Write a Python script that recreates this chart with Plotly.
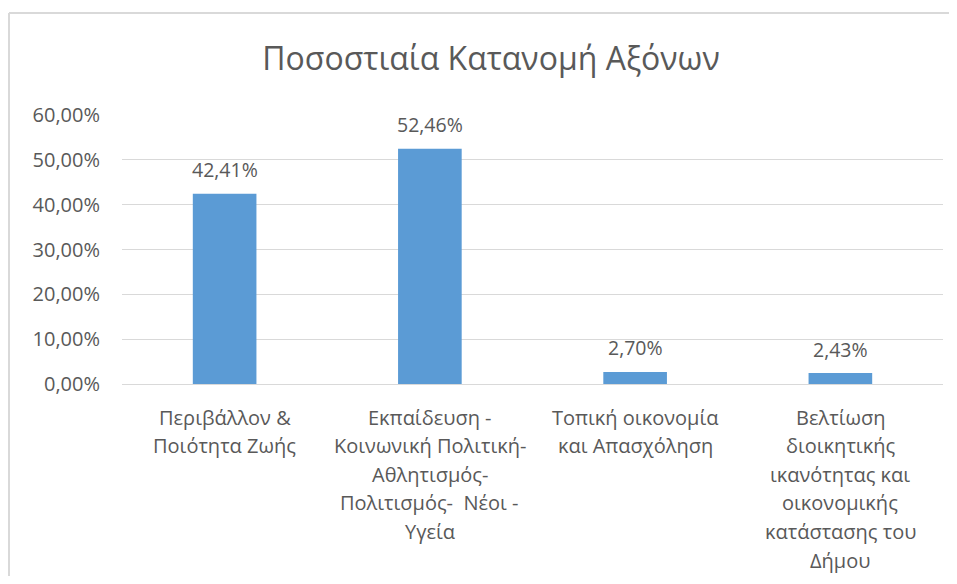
import plotly.graph_objects as go

categories = ["Περιβάλλον & Ποιότητα Ζωής",
              "Εκπαίδευση - Κοινωνική Πολιτική- Αθλητισμός- Πολιτισμός-  Νέοι - Υγεία",
              "Τοπική οικονομία και Απασχόληση",
              "Βελτίωση διοικητικής ικανότητας και οικονομικής κατάστασης του Δήμου"]
category_lines = [["Περιβάλλον &", "Ποιότητα Ζωής"],
                  ["Εκπαίδευση -", "Κοινωνική Πολιτική-", "Αθλητισμός-", "Πολιτισμός-  Νέοι -", "Υγεία"],
                  ["Τοπική οικονομία", "και Απασχόληση"],
                  ["Βελτίωση", "διοικητικής", "ικανότητας και", "οικονομικής", "κατάστασης του", "Δήμου"]]
values = [0.4241, 0.5246, 0.0270, 0.0243]
tick_vals = [0, 0.1, 0.2, 0.3, 0.4, 0.5, 0.6]

FONT = "Open Sans"
GREY = "#595959"
OFF = 8  # page body margin

fig = go.Figure()
fig.add_trace(go.Bar(x=categories, y=values, marker_color="#5B9BD5",
                     marker_line_width=0, hoverinfo="skip"))

annotations = []
for c, v in zip(categories, values):
    annotations.append(dict(x=c, y=v, xref="x", yref="y",
                            text=f"{v*100:.2f}".replace(".", ",") + "%",
                            showarrow=False, yanchor="middle", yshift=24,
                            font=dict(family=FONT, size=19.5, color=GREY)))
for c, lines in zip(categories, category_lines):
    for i, ln in enumerate(lines):
        annotations.append(dict(x=c, y=0, xref="x", yref="y", text=ln,
                                showarrow=False, yanchor="middle",
                                yshift=-33 - 28.6 * i,
                                font=dict(family=FONT, size=20, color=GREY)))

W, H = 957 - 2 * OFF, 584 - 2 * OFF
L, T = 122 - OFF, 115 - OFF
PW = 943 - 122
R = W - L - PW
B = H - (384 - OFF)
PH = H - T - B

def px_x(x):
    return (x - OFF - L) / PW

def px_y(y):
    return (H - B - (y - OFF)) / PH

border = dict(color="#D9D9D9", width=2)

fig.update_layout(
    width=W, height=H,
    separators=",.",
    paper_bgcolor="white", plot_bgcolor="white",
    margin=dict(l=L, r=R, t=T, b=B),
    bargap=0.69,
    showlegend=False,
    title=dict(text="Ποσοστιαία Κατανομή Αξόνων", x=(491 - OFF) / W, xref="container",
               xanchor="center", y=1 - (59 - OFF) / H, yref="container", yanchor="middle",
               font=dict(family=FONT, size=32, color=GREY)),
    xaxis=dict(showticklabels=False, showgrid=False, zeroline=False,
               showline=False, fixedrange=True),
    yaxis=dict(range=[0, 0.6], tickvals=tick_vals, tickformat=".2%",
               showgrid=True, gridcolor="#D9D9D9", gridwidth=1,
               zeroline=True, zerolinecolor="#D9D9D9", zerolinewidth=1,
               showline=False, ticks="", ticklabelstandoff=21,
               tickfont=dict(family=FONT, size=20, color=GREY)),
    annotations=annotations,
    shapes=[dict(type="line", xref="paper", yref="paper",
                 x0=px_x(9), x1=px_x(1000), y0=px_y(13), y1=px_y(13),
                 line=border, layer="below"),
            dict(type="line", xref="paper", yref="paper",
                 x0=px_x(9), x1=px_x(9), y0=px_y(13), y1=px_y(640),
                 line=border, layer="below")],
)

fig.write_html("out.html")
